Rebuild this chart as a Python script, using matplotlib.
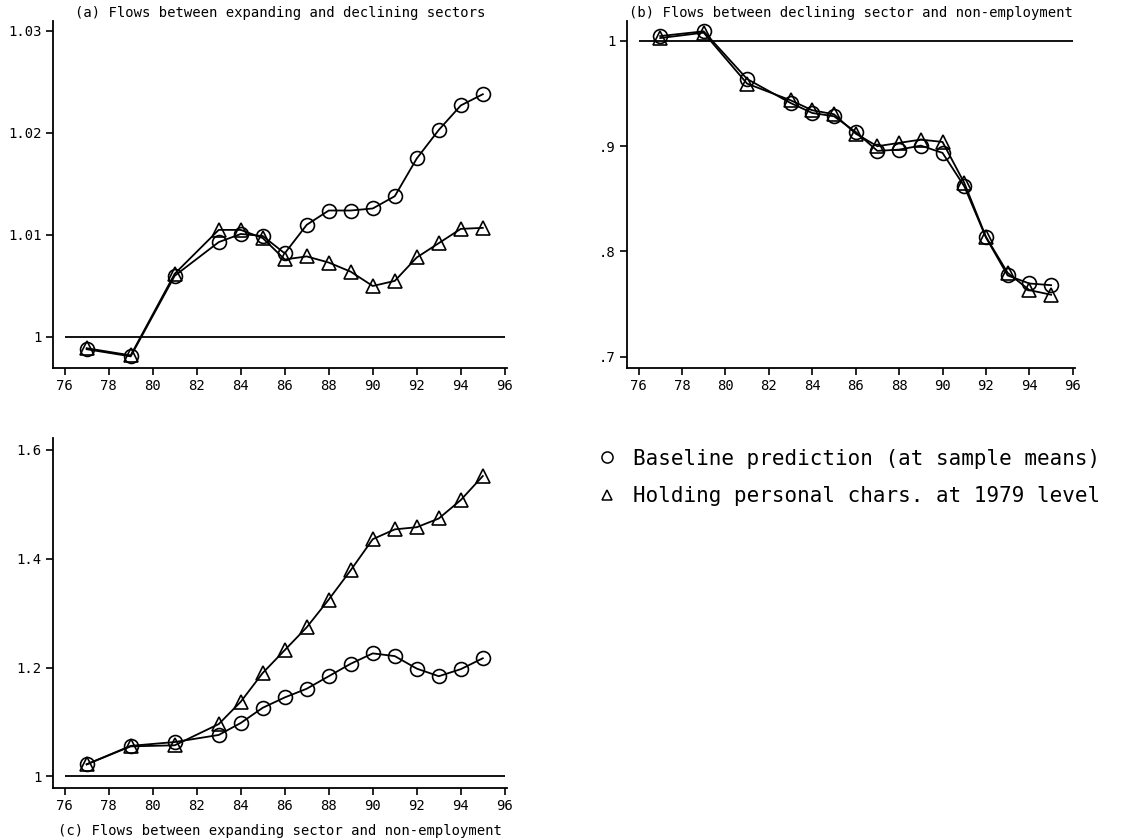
import matplotlib
matplotlib.use("Agg")
import matplotlib.pyplot as plt
from matplotlib.lines import Line2D

plt.rcParams['font.family'] = ['DejaVu Sans Mono']

W, H = 1126, 840

years = [77, 79, 81, 83, 84, 85, 86, 87, 88, 89, 90, 91, 92, 93, 94, 95]

# (a) expanding <-> declining
a_base = [0.9988, 0.9981, 1.0060, 1.0093, 1.0101, 1.0099, 1.0082, 1.0110, 1.0124, 1.0124,
          1.0126, 1.0138, 1.0175, 1.0203, 1.0227, 1.0238]
a_hold = [0.9989, 0.9982, 1.0062, 1.0105, 1.0105, 1.0097, 1.0076, 1.0079, 1.0073, 1.0064,
          1.0050, 1.0055, 1.0078, 1.0092, 1.0106, 1.0107]

# (b) declining <-> non-employment
b_base = [1.0047, 1.0092, 0.9639, 0.9411, 0.9316, 0.9285, 0.9136, 0.8956, 0.8968, 0.9006,
          0.8937, 0.8620, 0.8133, 0.7772, 0.7696, 0.7680]
b_hold = [1.0028, 1.0079, 0.9595, 0.9437, 0.9342, 0.9304, 0.9120, 0.9000, 0.9032, 0.9063,
          0.9041, 0.8652, 0.8139, 0.7797, 0.7633, 0.7589]

# (c) expanding <-> non-employment
c_base = [1.022, 1.056, 1.063, 1.076, 1.098, 1.126, 1.145, 1.161, 1.184, 1.207,
          1.226, 1.221, 1.198, 1.184, 1.197, 1.217]
c_hold = [1.022, 1.055, 1.057, 1.096, 1.137, 1.190, 1.232, 1.274, 1.325, 1.379,
          1.436, 1.454, 1.458, 1.474, 1.508, 1.552]

xticks = list(range(76, 97, 2))

titles = ["(a) Flows between expanding and declining sectors",
          "(b) Flows between declining sector and non-employment",
          "(c) Flows between expanding sector and non-employment"]
legend_labels = ["Baseline prediction (at sample means)",
                 "Holding personal chars. at 1979 level"]


def box(l, t, r, b):
    return [l / W, 1 - b / H, (r - l) / W, (b - t) / H]


def panel(ax, base, hold, ylim, yticks, ylabels):
    ax.hlines(1, 76, 96, color='black', lw=1.3)
    ax.plot(years, base, color='black', lw=1.3, marker='o', ms=10,
            mfc='none', mec='black', mew=1.2)
    ax.plot(years, hold, color='black', lw=1.3, marker='^', ms=10,
            mfc='none', mec='black', mew=1.2)
    ax.set_xlim(75.47, 96.1)
    ax.set_ylim(*ylim)
    ax.set_xticks(xticks)
    ax.set_xticklabels([str(x) for x in xticks])
    ax.set_yticks(yticks)
    ax.set_yticklabels(ylabels)
    for s in ['top', 'right']:
        ax.spines[s].set_visible(False)
    for s in ['left', 'bottom']:
        ax.spines[s].set_linewidth(1.3)
    ax.tick_params(direction='out', length=5, width=1.2, labelsize=10, pad=3)


fig = plt.figure(figsize=(W / 100, H / 100), dpi=100)

ax_a = fig.add_axes(box(53, 21, 507, 368))
panel(ax_a, a_base, a_hold, (0.99696, 1.03098), [1, 1.01, 1.02, 1.03],
      ["1", "1.01", "1.02", "1.03"])
ax_a.set_title(titles[0], fontsize=10, pad=3)

ax_b = fig.add_axes(box(627, 21, 1075, 368))
panel(ax_b, b_base, b_hold, (0.6893, 1.019), [0.7, 0.8, 0.9, 1],
      [".7", ".8", ".9", "1"])
ax_b.set_title(titles[1], fontsize=10, pad=3)

ax_c = fig.add_axes(box(53, 438, 507, 788))
panel(ax_c, c_base, c_hold, (0.9785, 1.622), [1, 1.2, 1.4, 1.6],
      ["1", "1.2", "1.4", "1.6"])
ax_c.set_xlabel(titles[2], fontsize=10, labelpad=8)

handles = [Line2D([], [], linestyle='none', marker='o', ms=8, mfc='none', mec='black', mew=1.1),
           Line2D([], [], linestyle='none', marker='^', ms=7, mfc='none', mec='black', mew=1.1)]
fig.legend(handles, legend_labels, loc='upper left', bbox_to_anchor=(578 / W, 1 - 430 / H),
           frameon=False, fontsize=15, handlelength=1.0, handletextpad=0.75, labelspacing=0.85)

fig.savefig("out.png", dpi=100)
